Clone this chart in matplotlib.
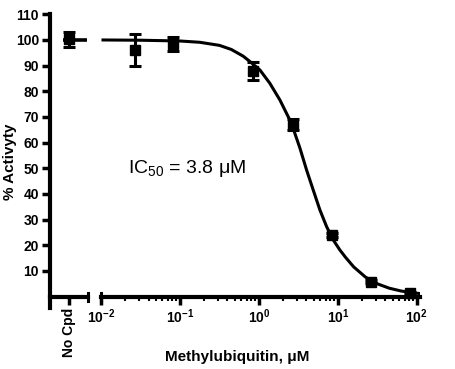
import matplotlib
matplotlib.use("Agg")
import matplotlib.pyplot as plt

plt.rcParams['font.family'] = ['Liberation Sans', 'DejaVu Sans']
plt.rcParams['mathtext.fontset'] = 'custom'
plt.rcParams['mathtext.rm'] = 'Liberation Sans'
plt.rcParams['mathtext.bf'] = 'Liberation Sans:bold'
plt.rcParams['mathtext.it'] = 'Liberation Sans:italic'

# ---- data ----
nocpd_label = "No Cpd"
nocpd_mean = 100.2
nocpd_err = 3.0

conc = [0.027, 0.082, 0.84, 2.7, 8.4, 26, 83]
activity = [96.1, 98.5, 88.0, 67.0, 24.0, 5.9, 1.3]
activity_err = [6.2, 2.8, 3.6, 2.2, 0.8, 0.5, 0.5]

# fitted curve
curve_x = [0.0106, 0.0316, 0.1, 0.178, 0.316, 0.447, 0.631, 0.769, 1.03,
           1.377, 1.845, 2.466, 2.716, 3.304, 4.018, 4.864, 5.916, 7.194,
           8.730, 10.59, 12.59, 15.85, 22.39, 31.62, 44.67, 63.10, 89.13, 109.6]
curve_y = [100.0, 99.9, 99.6, 99.1, 97.9, 96.3, 93.7, 91.6, 88.3,
           83.1, 76.6, 68.8, 65.5, 57.9, 49.3, 41.6, 33.8, 27.3,
           22.1, 18.2, 15.2, 11.6, 7.6, 5.0, 3.3, 2.2, 1.5, 1.2]
left_curve_x = [0.34, 0.97]
left_curve_y = [100.0, 100.0]

yticks = [10, 20, 30, 40, 50, 60, 70, 80, 90, 100, 110]
xticks = [1e-2, 1e-1, 1e0, 1e1, 1e2]
xtick_labels = [r'$\mathbf{10^{-2}}$', r'$\mathbf{10^{-1}}$', r'$\mathbf{10^{0}}$',
                r'$\mathbf{10^{1}}$', r'$\mathbf{10^{2}}$']

ic50_text = r'IC$_{50}$ = 3.8 μM'
ylabel = '% Activyty'
xlabel = 'Methylubiquitin, μM'

# ---- figure ----
W, H = 456, 369
fig = plt.figure(figsize=(W / 100, H / 100), dpi=100)

ylo, yhi = -4.5, 110
bottom = 60.8 / H
height = (354.7 - 60.8) / H

ax0 = fig.add_axes([50 / W, bottom, 38 / W, height])
ax1 = fig.add_axes([101 / W, bottom, 319 / W, height])

spine_lw = 3.0
for ax in (ax0, ax1):
    ax.set_ylim(ylo, yhi)
    ax.spines['top'].set_visible(False)
    ax.spines['right'].set_visible(False)
    ax.spines['bottom'].set_position(('data', 0))
    ax.spines['bottom'].set_linewidth(spine_lw)
    ax.spines['left'].set_linewidth(spine_lw)
    ax.patch.set_visible(False)

# left (No Cpd) segment
ax0.set_xlim(0, 1)
ax0.plot(left_curve_x, left_curve_y, color='black', lw=2.6, solid_capstyle='butt')
ax0.errorbar([0.5], [nocpd_mean], yerr=[nocpd_err], fmt='s', color='black',
             ms=6.5, capsize=4, elinewidth=2.2, capthick=2.2)
ax0.set_xticks([0.5])
ax0.set_xticklabels([nocpd_label], rotation=90, fontsize=10, fontweight='bold')
ax0.set_yticks(yticks)
ax0.set_yticklabels([str(v) for v in yticks], fontsize=10, fontweight='bold')
ax0.tick_params(axis='both', width=2.5, length=6, pad=2)
ax0.spines['bottom'].set_bounds(0, 1)
ax0.plot([1, 1], [-1.6, 1.6], color='black', lw=2.2, clip_on=False)

# main segment
ax1.set_xscale('log')
ax1.set_xlim(1e-2, 10 ** 2.04)
ax1.spines['left'].set_visible(False)
ax1.set_yticks([])
ax1.plot(curve_x, curve_y, color='black', lw=2.2)
ax1.errorbar(conc, activity, yerr=activity_err, fmt='s', color='black',
             ms=6.5, capsize=4, elinewidth=2.2, capthick=2.2)
ax1.set_xticks(xticks)
ax1.set_xticklabels(xtick_labels, fontsize=10)
ax1.tick_params(axis='x', which='major', width=2.5, length=6, pad=2)
ax1.tick_params(axis='x', which='minor', width=1.5, length=3)
ax1.plot([1e-2, 1e-2], [-1.6, 1.6], color='black', lw=2.2, clip_on=False)

ax1.text(0.022, 48, ic50_text, fontsize=14, ha='left', va='baseline')

fig.text(10 / W, 1 - 162 / H, ylabel, rotation=90, fontsize=11, fontweight='bold',
         ha='center', va='center')
fig.text(237 / W, 1 - 357 / H, xlabel, fontsize=11, fontweight='bold',
         ha='center', va='center')

fig.savefig('out.png', dpi=100)
